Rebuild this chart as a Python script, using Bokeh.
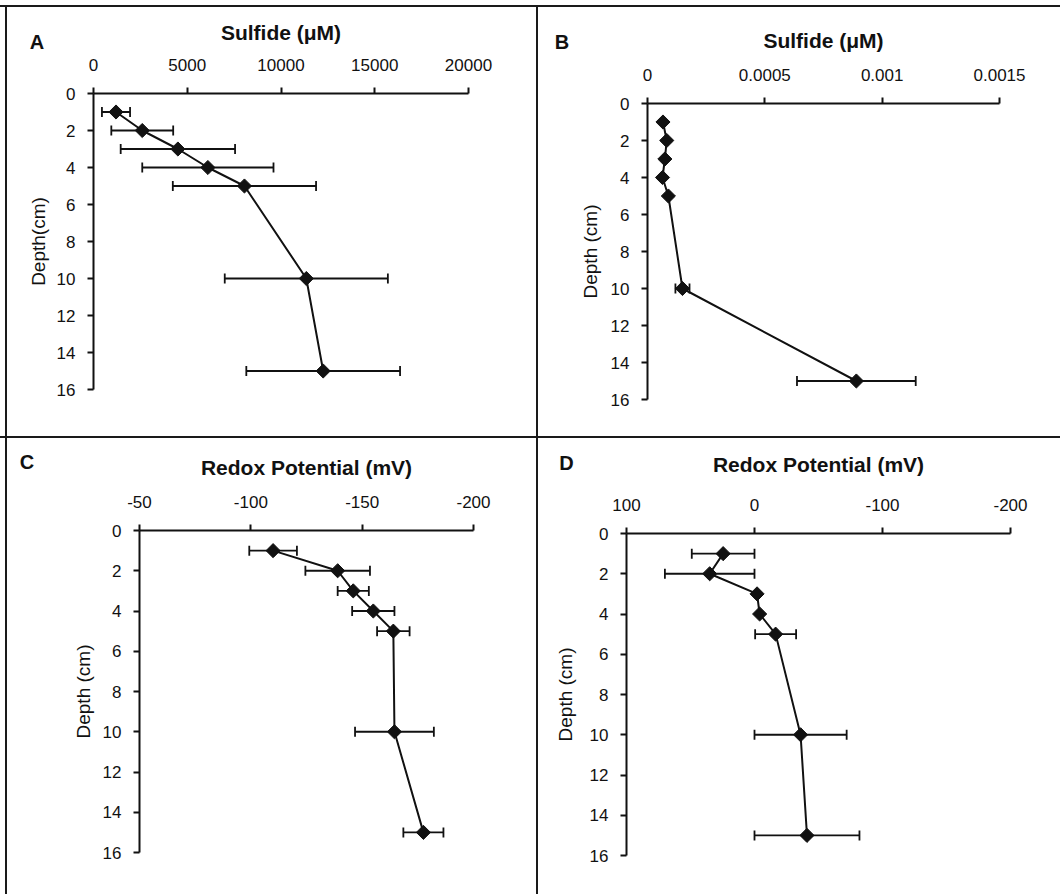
import math
from bokeh.plotting import figure
from bokeh.models import (Range1d, FixedTicker, ColumnDataSource, Whisker, TeeHead,
                          Label, CustomJSTickFormatter)
from bokeh.layouts import row, column
from bokeh.embed import file_html
from bokeh.resources import INLINE

# ---------------- data ----------------
depth = [1, 2, 3, 4, 5, 10, 15]

sulfide_a = [1200, 2600, 4500, 6100, 8050, 11350, 12250]
sulfide_a_err = [750, 1650, 3050, 3500, 3820, 4350, 4100]

sulfide_b = [0.000066, 0.000082, 0.000074, 0.000064, 0.000089, 0.000149, 0.00089]
sulfide_b_err = [0.000005, 0.000005, 0.000005, 0.000005, 0.000005, 0.00003, 0.000253]

redox_c = [-110, -139, -146, -155, -164, -164.5, -177.5]
redox_c_err = [10.7, 14.5, 7, 9.5, 7.3, 17.7, 9]

redox_d = [24.5, 35, -2, -4, -16.5, -36, -41]
redox_d_err = [24.5, 35, 0, 0, 16, 36, 41]

ticks_a = [0, 5000, 10000, 15000, 20000]
ticks_b = [0, 0.0005, 0.001, 0.0015]
ticks_c = [-50, -100, -150, -200]
ticks_d = [100, 0, -100, -200]
depth_ticks = [0, 2, 4, 6, 8, 10, 12, 14, 16]

FONT = "Liberation Sans"
INK = "#111111"


def panel(letter, title, ylabel, xvals, errs, xr, xticks, width, height,
          left, top, right, bottom, letter_xy, title_standoff, ylabel_standoff, shift_y):
    p = figure(width=width, height=height, output_backend="svg", toolbar_location=None,
               x_range=Range1d(*xr), y_range=Range1d(16, 0),
               x_axis_location="above", y_axis_location="left",
               min_border_left=left, min_border_top=top,
               min_border_right=right, min_border_bottom=bottom,
               border_fill_color=None, background_fill_color=None,
               outline_line_color=None,
               styles={"position": "relative", "top": f"{shift_y}px"})
    p.xgrid.visible = False
    p.ygrid.visible = False

    xa = p.xaxis[0]
    xa.ticker = FixedTicker(ticks=xticks)
    xa.formatter = CustomJSTickFormatter(code="return tick.toString();")
    xa.axis_label = title
    xa.axis_label_text_font = FONT
    xa.axis_label_text_font_style = "bold"
    xa.axis_label_text_font_size = "21px"
    xa.axis_label_text_color = INK
    xa.axis_label_standoff = title_standoff
    xa.major_label_standoff = 17

    ya = p.yaxis[0]
    ya.ticker = FixedTicker(ticks=depth_ticks)
    ya.formatter = CustomJSTickFormatter(code="return tick.toString();")
    ya.axis_label = ylabel
    ya.axis_label_text_font = FONT
    ya.axis_label_text_font_style = "normal"
    ya.axis_label_text_font_size = "19px"
    ya.axis_label_text_color = INK
    ya.axis_label_standoff = ylabel_standoff
    ya.major_label_standoff = 12

    for ax in (xa, ya):
        ax.major_label_text_font = FONT
        ax.major_label_text_font_size = "17px"
        ax.major_label_text_color = INK
        ax.major_tick_out = 6
        ax.major_tick_in = 0
        ax.minor_tick_out = 0
        ax.minor_tick_in = 0
        ax.axis_line_width = 2
        ax.axis_line_color = INK
        ax.major_tick_line_width = 2
        ax.major_tick_line_color = INK

    src = ColumnDataSource(dict(
        x=xvals, y=depth,
        lower=[v - e for v, e in zip(xvals, errs)],
        upper=[v + e for v, e in zip(xvals, errs)],
    ))
    w = Whisker(source=src, base="y", lower="lower", upper="upper", dimension="width",
                line_color=INK, line_width=1.8,
                upper_head=TeeHead(size=10, line_width=1.8, line_color=INK),
                lower_head=TeeHead(size=10, line_width=1.8, line_color=INK))
    p.add_layout(w)
    p.line("x", "y", source=src, line_color=INK, line_width=2)
    p.scatter("x", "y", source=src, marker="square", angle=math.pi / 4, size=10,
              fill_color=INK, line_color=INK)

    lab_kw = dict(text=letter, text_font=FONT, text_font_style="bold",
                  text_font_size="20px", text_color=INK,
                  text_align="center", text_baseline="middle")
    try:
        lab = Label(x=letter_xy[0], y=letter_xy[1], x_units="canvas", y_units="canvas", **lab_kw)
    except ValueError:
        lab = Label(x=letter_xy[0], y=height - letter_xy[1], x_units="screen",
                    y_units="screen", **lab_kw)
    p.add_layout(lab, "below")
    return p


pA = panel("A", "Sulfide (\u03bcM)", "Depth(cm)", sulfide_a, sulfide_a_err, (0, 20000), ticks_a,
           537, 436, 93, 93, 69, 47, (36.5, 41), 12, 5, 0)
pB = panel("B", "Sulfide (\u03bcM)", "Depth (cm)", sulfide_b, sulfide_b_err, (0, 0.0015), ticks_b,
           523, 436, 110, 93, 61, 47, (24.5, 31), 14, 7, 10)
pC = panel("C", "Redox Potential (mV)", "Depth (cm)", redox_c, redox_c_err, (-50, -200), ticks_c,
           537, 458, 139, 94, 64, 42, (26.5, 25), 14, 6, 0)
pD = panel("D", "Redox Potential (mV)", "Depth (cm)", redox_d, redox_d_err, (100, -200), ticks_d,
           523, 458, 89, 94, 50, 42, (29, 23.5), 20, 11, 3)

LINE = "#1a1a1a"
vdiv = (f"linear-gradient(to right, transparent 536px, {LINE} 536px, {LINE} 538px, "
        f"transparent 538px)")
row1 = row(pA, pB, styles={"background-image":
                           "linear-gradient(to bottom, #ffffff 5px, transparent 5px), " + vdiv})
row2 = row(pC, pD, styles={"background-image":
                           f"linear-gradient(to bottom, {LINE} 2px, transparent 2px), " + vdiv})
layout = column(row1, row2, styles={"background-image":
    f"linear-gradient(to bottom, transparent 5px, {LINE} 5px, {LINE} 7px, transparent 7px), "
    f"linear-gradient(to right, transparent 5px, {LINE} 5px, {LINE} 7px, transparent 7px)"})

open("out.html", "w").write(file_html(layout, INLINE))
